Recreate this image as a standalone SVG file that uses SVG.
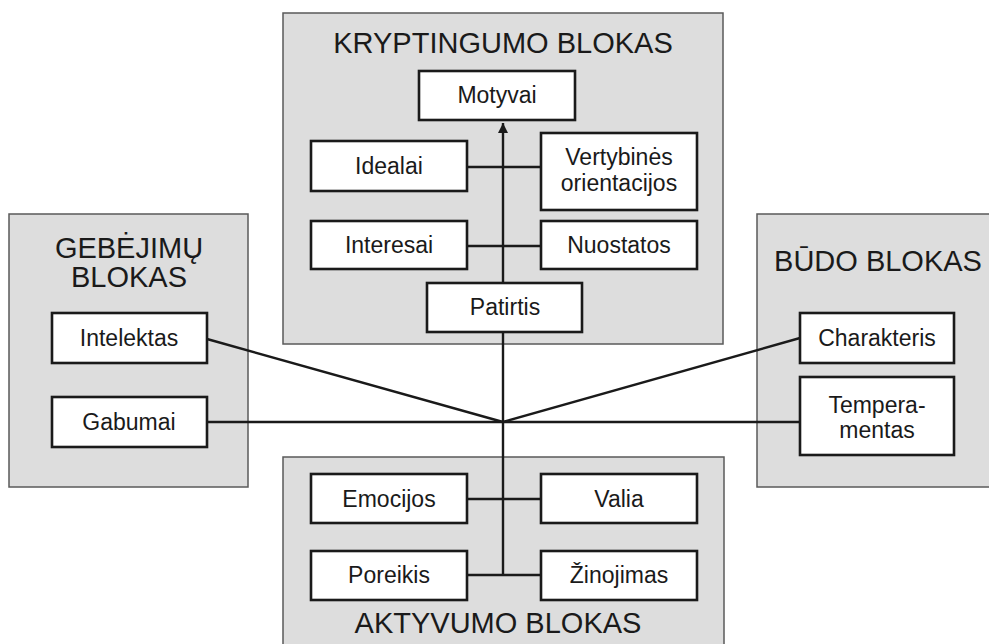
<svg xmlns="http://www.w3.org/2000/svg" width="989" height="644" viewBox="0 0 989 644">
  <defs>
    <style>
      .panel { fill: #dddddd; stroke: #5a5a5a; stroke-width: 1.5; }
      .box { fill: #ffffff; stroke: #1a1a1a; stroke-width: 2.6; }
      .title { font-family: "Liberation Sans", Arial, sans-serif; font-size: 29px; fill: #1a1a1a; text-anchor: middle; }
      .label { font-family: "Liberation Sans", Arial, sans-serif; font-size: 23px; fill: #1a1a1a; text-anchor: middle; }
      .wire { fill: none; stroke: #1a1a1a; stroke-width: 2.4; }
    </style>
    <marker id="arrow" viewBox="0 0 10 10" refX="10" refY="5" markerWidth="10" markerHeight="10" markerUnits="userSpaceOnUse" orient="auto">
      <path d="M0,0 L10,5 L0,10 Z" fill="#1a1a1a"/>
    </marker>
  </defs>

  <rect width="989" height="644" fill="#ffffff"/>

  <!-- block panels -->
  <g id="panel-kryptingumo">
    <rect class="panel" x="283" y="13" width="440" height="331"/>
    <text class="title" x="503" y="53">KRYPTINGUMO BLOKAS</text>
  </g>
  <g id="panel-gebejimu">
    <rect class="panel" x="9" y="214" width="239" height="273"/>
    <text class="title" x="129" y="258">GEBĖJIMŲ</text>
    <text class="title" x="129" y="287">BLOKAS</text>
  </g>
  <g id="panel-budo">
    <rect class="panel" x="757" y="214" width="240" height="273"/>
    <text class="title" x="878" y="271">BŪDO BLOKAS</text>
  </g>
  <g id="panel-aktyvumo">
    <rect class="panel" x="283" y="457" width="441" height="200"/>
    <text class="title" x="498" y="633">AKTYVUMO BLOKAS</text>
  </g>

  <!-- connectors -->
  <g id="connectors">
    <line class="wire" x1="503" y1="575" x2="503" y2="123" marker-end="url(#arrow)"/>
    <line class="wire" x1="467" y1="167" x2="541" y2="167"/>
    <line class="wire" x1="467" y1="246" x2="541" y2="246"/>
    <line class="wire" x1="467" y1="499" x2="541" y2="499"/>
    <line class="wire" x1="467" y1="575" x2="541" y2="575"/>
    <line class="wire" x1="207" y1="422" x2="800" y2="422"/>
    <line class="wire" x1="207" y1="339" x2="503" y2="422"/>
    <line class="wire" x1="800" y1="338" x2="503" y2="422"/>
  </g>

  <!-- nodes -->
  <g id="motyvai">
    <rect class="box" x="419" y="71" width="156" height="49"/>
    <text class="label" x="497" y="103">Motyvai</text>
  </g>
  <g id="idealai">
    <rect class="box" x="311" y="141" width="156" height="50"/>
    <text class="label" x="389" y="174">Idealai</text>
  </g>
  <g id="vertybines">
    <rect class="box" x="541" y="133" width="156" height="77"/>
    <text class="label" x="619" y="165">Vertybinės</text>
    <text class="label" x="619" y="191">orientacijos</text>
  </g>
  <g id="interesai">
    <rect class="box" x="311" y="221" width="156" height="48"/>
    <text class="label" x="389" y="253">Interesai</text>
  </g>
  <g id="nuostatos">
    <rect class="box" x="541" y="221" width="156" height="48"/>
    <text class="label" x="619" y="253">Nuostatos</text>
  </g>
  <g id="patirtis">
    <rect class="box" x="427" y="283" width="155" height="49"/>
    <text class="label" x="505" y="315">Patirtis</text>
  </g>
  <g id="intelektas">
    <rect class="box" x="52" y="313" width="155" height="50"/>
    <text class="label" x="129" y="346">Intelektas</text>
  </g>
  <g id="gabumai">
    <rect class="box" x="52" y="397" width="155" height="50"/>
    <text class="label" x="129" y="430">Gabumai</text>
  </g>
  <g id="charakteris">
    <rect class="box" x="800" y="313" width="154" height="50"/>
    <text class="label" x="877" y="346">Charakteris</text>
  </g>
  <g id="temperamentas">
    <rect class="box" x="800" y="377" width="154" height="78"/>
    <text class="label" x="877" y="413">Tempera-</text>
    <text class="label" x="877" y="438">mentas</text>
  </g>
  <g id="emocijos">
    <rect class="box" x="311" y="474" width="156" height="49"/>
    <text class="label" x="389" y="507">Emocijos</text>
  </g>
  <g id="valia">
    <rect class="box" x="541" y="474" width="156" height="49"/>
    <text class="label" x="619" y="507">Valia</text>
  </g>
  <g id="poreikis">
    <rect class="box" x="311" y="551" width="156" height="49"/>
    <text class="label" x="389" y="583">Poreikis</text>
  </g>
  <g id="zinojimas">
    <rect class="box" x="541" y="551" width="156" height="49"/>
    <text class="label" x="619" y="583">Žinojimas</text>
  </g>
</svg>
